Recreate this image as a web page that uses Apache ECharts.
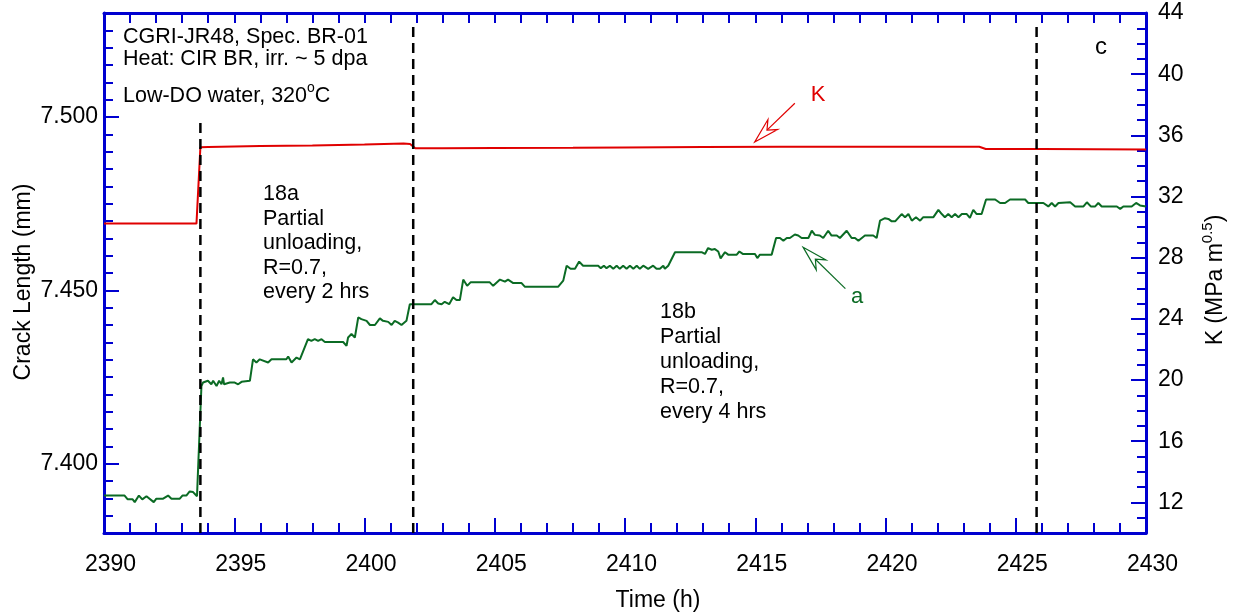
<!DOCTYPE html>
<html><head><meta charset="utf-8">
<script src="https://cdn.jsdelivr.net/npm/echarts@6/dist/echarts.min.js"></script>
<style>html,body{margin:0;padding:0;background:#fff}#c{width:1236px;height:614px}</style>
</head><body><div id="c"></div>
<script>
// ---- data ----
const crackTime = [2390.00,2390.79,2390.91,2391.10,2391.18,2391.34,2391.47,2391.63,2391.91,2392.01,2392.27,2392.46,2392.59,2392.91,2393.01,2393.16,2393.29,2393.42,2393.57,
2393.74,2393.80,2393.99,2394.12,2394.19,2394.32,2394.42,2394.51,2394.57,2394.61,2394.83,2395.02,2395.15,2395.28,2395.60,2395.72,2395.85,2395.98,2396.30,2396.43,2397.00,2397.07,2397.20,2397.39,2397.52,2397.83,2397.96,2398.09,2398.22,2398.35,2398.48,2399.18,2399.31,2399.37,2399.50,2399.63,2399.76,2399.88,2400.08,2400.21,2400.40,2400.59,2400.71,2400.91,2401.04,2401.16,2401.29,2401.42,2401.61,2401.74,
2402.57,2402.70,2402.83,2402.96,2403.08,2403.25,2403.40,2403.53,2403.66,2403.79,2403.94,2404.07,2404.81,2404.94,2405.20,2405.39,2405.51,2405.71,2406.03,2406.16,2407.43,2407.63,2407.76,2407.91,2408.08,2408.24,2408.39,2408.97,2409.07,2409.19,2409.29,2409.42,2409.55,2409.68,2409.80,2409.93,2410.06,2410.19,2410.32,2410.45,2410.57,2410.70,2410.89,2411.08,2411.21,2411.34,2411.47,2411.53,2411.66,2411.92,
2412.94,2413.07,2413.19,2413.33,2413.45,2413.58,2413.67,2413.84,2413.96,2414.29,2414.39,2414.52,2414.99,2415.08,2415.18,2415.63,2415.80,2415.95,2416.08,2416.21,2416.33,2416.52,2416.65,2416.78,2417.04,2417.17,2417.29,2417.48,2417.61,2417.80,2417.93,2418.13,2418.25,2418.51,2418.70,2418.83,2418.96,2419.21,2419.53,2419.66,2419.79,2419.98,2420.11,2420.24,2420.37,2420.62,2420.75,2420.88,2421.01,2421.17,2421.33,2421.45,2421.84,
2422.03,2422.16,2422.28,2422.41,2422.54,2422.67,2422.80,2422.93,2423.12,2423.24,2423.37,2423.50,2423.69,2423.86,2424.21,2424.40,2424.59,2424.78,2425.36,2425.48,2426.06,2426.25,2426.38,2426.51,2426.64,2427.09,2427.28,2427.60,2427.73,2427.88,2428.05,2428.17,2428.30,2428.88,2429.01,2429.13,2429.45,2429.62,2429.77,2430.00];
const crackLength = [7.3908,7.3908,7.3897,7.3897,7.3889,7.3908,7.3897,7.3906,7.3889,7.3899,7.3899,7.3908,7.3899,7.3899,7.3908,7.3908,7.3920,7.3918,7.3906,
7.4224,7.4234,7.4239,7.4229,7.4239,7.4224,7.4239,7.4229,7.4249,7.4229,7.4234,7.4234,7.4229,7.4236,7.4239,7.4301,7.4292,7.4301,7.4292,7.4301,7.4301,7.4309,7.4292,7.4306,7.4301,7.4359,7.4354,7.4359,7.4354,7.4359,7.4351,7.4351,7.4340,7.4364,7.4374,7.4364,7.4422,7.4417,7.4412,7.4400,7.4400,7.4419,7.4412,7.4409,7.4400,7.4412,7.4407,7.4400,7.4412,7.4460,
7.4460,7.4472,7.4462,7.4460,7.4467,7.4460,7.4480,7.4472,7.4472,7.4531,7.4513,7.4523,7.4523,7.4513,7.4531,7.4525,7.4531,7.4521,7.4521,7.4510,7.4510,7.4528,7.4571,7.4562,7.4562,7.4583,7.4571,7.4571,7.4564,7.4571,7.4564,7.4571,7.4562,7.4571,7.4562,7.4571,7.4562,7.4571,7.4562,7.4571,7.4562,7.4571,7.4562,7.4571,7.4562,7.4562,7.4571,7.4562,7.4571,7.4610,
7.4610,7.4605,7.4622,7.4617,7.4619,7.4612,7.4592,7.4610,7.4603,7.4603,7.4612,7.4605,7.4605,7.4593,7.4603,7.4603,7.4651,7.4651,7.4643,7.4651,7.4651,7.4661,7.4658,7.4651,7.4651,7.4672,7.4660,7.4658,7.4651,7.4672,7.4658,7.4658,7.4651,7.4672,7.4651,7.4651,7.4643,7.4658,7.4658,7.4651,7.4701,7.4708,7.4706,7.4699,7.4699,7.4720,7.4711,7.4720,7.4701,7.4711,7.4701,7.4711,7.4711,
7.4732,7.4720,7.4711,7.4720,7.4711,7.4720,7.4711,7.4720,7.4720,7.4709,7.4732,7.4720,7.4720,7.4762,7.4762,7.4752,7.4752,7.4762,7.4762,7.4752,7.4752,7.4742,7.4752,7.4742,7.4752,7.4754,7.4742,7.4742,7.4754,7.4742,7.4742,7.4752,7.4742,7.4742,7.4735,7.4742,7.4742,7.4752,7.4745,7.4742];

const kTime  = [2390.00,2393.55,2393.70,2394.00,2396.00,2398.00,2400.00,2401.50,2401.75,2401.95,2403.00,2405.00,2408.00,2410.00,2413.00,2416.00,2418.00,2420.00,2422.00,2423.60,2423.85,2426.00,2428.00,2430.00];
const kValues = [30.23,30.23,35.22,35.24,35.30,35.34,35.40,35.46,35.44,35.15,35.15,35.17,35.19,35.21,35.24,35.25,35.25,35.25,35.25,35.25,35.11,35.10,35.09,35.08];

const phaseLineTime = [2393.70, 2401.87, 2425.80];
const phaseLineTop  = [7.4995, 7.5272, 7.5272];

const crackTicks = [7.40, 7.45, 7.50];
const kTicks = [12, 16, 20, 24, 28, 32, 36, 40, 44];

// ---- style ----
const FONT = 'Liberation Sans, Arial, Helvetica, sans-serif';
const BLUE = '#0000d0';
const GREEN = '#0b6b24';
const RED = '#e00000';
const TICK_FS = 23;

const chart = echarts.init(document.getElementById('c'));

const hiddenAxis = (extra) => Object.assign({
  type: 'value', axisLine: {show: false}, axisLabel: {show: false}, splitLine: {show: false}
}, extra);

const option = {
  animation: false,
  backgroundColor: '#fff',
  grid: {left: 104, right: 90, top: 13, bottom: 81, containLabel: false},
  xAxis: [
    {type: 'value', position: 'bottom', min: 2390, max: 2430, interval: 5,
     axisLine: {onZero: false, lineStyle: {color: BLUE, width: 3}},
     axisTick: {inside: true, length: 15, lineStyle: {color: BLUE, width: 2}},
     axisLabel: {color: '#000', fontSize: TICK_FS, fontFamily: FONT, margin: 20, padding: [0, 0, 0, 13], formatter: v => String(v)},
     splitLine: {show: false}},
    hiddenAxis({position: 'bottom', min: 2390, max: 2430, interval: 1,
     axisTick: {inside: true, length: 10, lineStyle: {color: BLUE, width: 2}}}),
    {type: 'value', position: 'top', min: 2390, max: 2430, interval: 1,
     axisLine: {onZero: false, lineStyle: {color: BLUE, width: 3}},
     axisTick: {inside: true, length: 10, lineStyle: {color: BLUE, width: 2}},
     axisLabel: {show: false}, splitLine: {show: false}}
  ],
  yAxis: [
    {type: 'value', position: 'left', min: 7.38, max: 7.53,
     axisLine: {onZero: false, lineStyle: {color: BLUE, width: 3}},
     axisTick: {inside: true, length: 15, customValues: crackTicks, lineStyle: {color: BLUE, width: 2}},
     axisLabel: {customValues: crackTicks, formatter: v => v.toFixed(3), color: '#000', fontSize: TICK_FS, fontFamily: FONT, margin: 6},
     splitLine: {show: false}},
    hiddenAxis({position: 'left', min: 7.38, max: 7.53, interval: 0.005,
     axisTick: {inside: true, length: 9, lineStyle: {color: BLUE, width: 2}}}),
    {type: 'value', position: 'right', min: 10, max: 44,
     axisLine: {onZero: false, lineStyle: {color: BLUE, width: 3}},
     axisTick: {inside: true, length: 15, customValues: kTicks, lineStyle: {color: BLUE, width: 2}},
     axisLabel: {customValues: kTicks, color: '#000', fontSize: TICK_FS, fontFamily: FONT, margin: 12},
     splitLine: {show: false}},
    hiddenAxis({position: 'right', min: 10, max: 44, interval: 1,
     axisTick: {inside: true, length: 9, lineStyle: {color: BLUE, width: 2}}})
  ],
  series: [
    {type: 'line', name: 'a', xAxisIndex: 0, yAxisIndex: 0, showSymbol: false, symbol: 'none',
     lineStyle: {color: GREEN, width: 2}, data: crackTime.map((t, i) => [t, crackLength[i]]), z: 3},
    {type: 'line', name: 'K', xAxisIndex: 0, yAxisIndex: 2, showSymbol: false, symbol: 'none',
     lineStyle: {color: RED, width: 2}, data: kTime.map((t, i) => [t, kValues[i]]), z: 3}
  ].concat(phaseLineTime.map((t, i) => ({
     type: 'line', xAxisIndex: 0, yAxisIndex: 0, symbol: 'none', silent: true, z: 4,
     lineStyle: {color: '#000', width: 2.5, type: [10, 6]},
     data: [[t, 7.38], [t, phaseLineTop[i]]]
  })))
};
chart.setOption(option);

// ---- annotations ----
function txt(x, y, text, opts) {
  return {type: 'text', x: x, y: y, silent: true, z: 10,
    style: Object.assign({text: text, fontSize: 21.5, fontFamily: FONT, fill: '#000',
      align: 'left', verticalAlign: 'middle'}, opts || {})};
}
function block(x, y0, lh, lines) {
  return lines.map((l, i) => txt(x, y0 + i * lh, l));
}
function arrow(startData, tipData, yAxisIndex, color) {
  const p0 = chart.convertToPixel({xAxisIndex: 0, yAxisIndex: yAxisIndex}, startData);
  const p1 = chart.convertToPixel({xAxisIndex: 0, yAxisIndex: yAxisIndex}, tipData);
  const dx = p0[0] - p1[0], dy = p0[1] - p1[1];
  const L = Math.hypot(dx, dy), ux = dx / L, uy = dy / L;
  const a = 15.5 * Math.PI / 180, hl = 26, nl = 17;
  const rot = (s) => [ux * Math.cos(s) - uy * Math.sin(s), ux * Math.sin(s) + uy * Math.cos(s)];
  const w1 = rot(a), w2 = rot(-a);
  const head = [p1, [p1[0] + w1[0] * hl, p1[1] + w1[1] * hl], [p1[0] + ux * nl, p1[1] + uy * nl], [p1[0] + w2[0] * hl, p1[1] + w2[1] * hl]];
  return [
    {type: 'polyline', silent: true, z: 10, shape: {points: [[p1[0] + ux * nl, p1[1] + uy * nl], p0]}, style: {stroke: color, lineWidth: 1.2, fill: null}},
    {type: 'polygon', silent: true, z: 10, shape: {points: head}, style: {stroke: color, lineWidth: 1.2, fill: '#fff'}}
  ];
}

const sup = {fontSize: 14, fontFamily: FONT, fill: '#000', padding: [0, 0, 16, 0]};
const graphics = [].concat(
  [txt(123, 37, 'CGRI-JR48, Spec. BR-01'),
   txt(123, 59, 'Heat: CIR BR, irr. ~ 5 dpa'),
   txt(123, 96, 'Low-DO water, 320{sup|o}C', {rich: {sup: sup}}),
   txt(1101, 47, 'c', {align: 'center', fontSize: 24})],
  block(263, 194, 24.6, ['18a', 'Partial', 'unloading,', 'R=0.7,', 'every 2 hrs']),
  block(660, 312, 25, ['18b', 'Partial', 'unloading,', 'R=0.7,', 'every 4 hrs']),
  [txt(818, 95, 'K', {align: 'center', fill: RED, fontSize: 22}),
   txt(857, 297, 'a', {align: 'center', fill: GREEN, fontSize: 22})],
  arrow([2416.52, 38.10], [2414.98, 35.57], 2, RED),
  arrow([2418.46, 7.4505], [2416.84, 7.4624], 0, GREEN),
  [{type: 'text', x: 24, y: 282, rotation: Math.PI / 2, silent: true,
    style: {text: 'Crack Length (mm)', fontSize: 23, fontFamily: FONT, fill: '#000', align: 'center', verticalAlign: 'middle'}},
   {type: 'text', x: 1216, y: 280, rotation: Math.PI / 2, silent: true,
    style: {text: 'K (MPa m{s|0.5})', fontSize: 23, fontFamily: FONT, fill: '#000', align: 'center', verticalAlign: 'middle',
      rich: {s: {fontSize: 15, fontFamily: FONT, fill: '#000', padding: [0, 0, 16, 0]}}}},
   {type: 'text', x: 658, y: 601, silent: true,
    style: {text: 'Time (h)', fontSize: 23, fontFamily: FONT, fill: '#000', align: 'center', verticalAlign: 'middle'}}]
);
chart.setOption({graphic: graphics});
</script>
</body></html>
